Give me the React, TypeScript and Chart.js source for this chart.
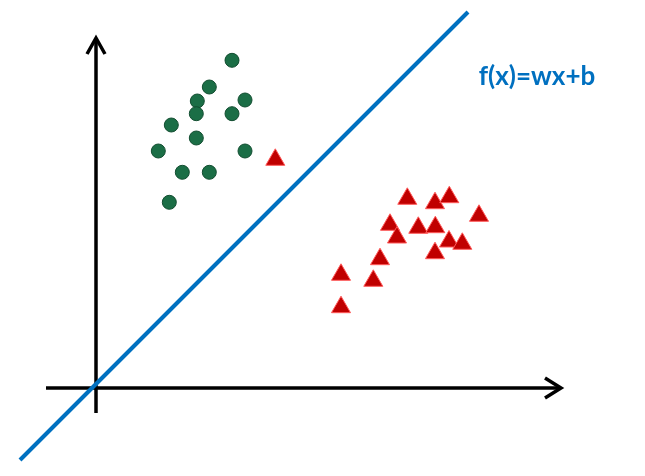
import React, { useEffect, useRef } from "react";
import { Chart, registerables } from "chart.js";

Chart.register(...registerables);

// Coordinate system: origin at the axes crossing, 1 unit = 1 px
const classAX = [136, 113.3, 101.3, 149, 100.3, 136, 75.3, 100.3, 62.3, 149, 86.3, 113.3, 73.3];
const classAY = [327.7, 301, 287, 288, 274.3, 274.3, 263, 250, 237, 237, 215.7, 215.7, 185.7];

const classBX = [311.3, 339, 353.3, 383, 294, 301, 322.3, 339.3, 353, 366.3, 339, 284, 245, 277.3, 245, 179.3];
const classBY = [189.2, 184.8, 190.8, 172.2, 163.2, 150.5, 160.2, 160.8, 146.5, 144.2, 134.8, 128.8, 113.2, 107.2, 80.8, 228.2];

const boundaryX = [-76, 372];
const boundaryY = [-72, 376];

const xAxisX = [-50, 465];
const xAxisY = [0, 0];
const yAxisX = [0, 0];
const yAxisY = [-25, 350];

const xArrowX = [449, 465, 449];
const xArrowY = [10, 0, -10];
const yArrowX = [-9, 0, 9];
const yArrowY = [334, 350, 334];

const labelText = "f(x)=wx+b";
const labelX = 441;
const labelY = 311;

const xMin = -96;
const xMax = 549;
const yMin = -88;
const yMax = 388;

const zip = (xs: number[], ys: number[]) => xs.map((x, i) => ({ x, y: ys[i] }));

export default function App() {
  const ref = useRef<HTMLCanvasElement | null>(null);
  useEffect(() => {
    if (!ref.current) return;
    const labelPlugin = {
      id: "fxLabel",
      afterDatasetsDraw(chart: any) {
        const ctx = chart.ctx;
        const px = chart.scales.x.getPixelForValue(labelX);
        const py = chart.scales.y.getPixelForValue(labelY);
        ctx.save();
        ctx.font = "bold 26px Lato";
        ctx.fillStyle = "#0070C0";
        ctx.textAlign = "center";
        ctx.textBaseline = "middle";
        ctx.fillText(labelText, px, py);
        ctx.restore();
      },
    };
    const lineDs = (xs: number[], ys: number[], color: string, width: number) => ({
      data: zip(xs, ys),
      showLine: true,
      borderColor: color,
      borderWidth: width,
      pointRadius: 0,
      pointHoverRadius: 0,
      borderJoinStyle: "miter" as const,
      borderCapStyle: "butt" as const,
      tension: 0,
      fill: false,
    });
    const chart = new Chart(ref.current, {
      type: "scatter",
      data: {
        datasets: [
          {
            data: zip(classAX, classAY),
            pointStyle: "circle",
            pointRadius: 7,
            pointBackgroundColor: "#1B6E46",
            pointBorderColor: "#124D30",
            pointBorderWidth: 1,
          },
          {
            data: zip(classBX, classBY),
            pointStyle: "triangle",
            pointRadius: 11,
            pointBackgroundColor: "#C00000",
            pointBorderColor: "#FF5A5A",
            pointBorderWidth: 1,
          },
          lineDs(boundaryX, boundaryY, "#0070C0", 4),
          lineDs(xAxisX, xAxisY, "#000000", 3.5),
          lineDs(yAxisX, yAxisY, "#000000", 3.5),
          lineDs(xArrowX, xArrowY, "#000000", 3.5),
          lineDs(yArrowX, yArrowY, "#000000", 3.5),
        ] as any,
      },
      options: {
        animation: false,
        responsive: false,
        devicePixelRatio: 1,
        layout: { padding: 0, autoPadding: false },
        plugins: { legend: { display: false }, tooltip: { enabled: false } },
        events: [],
        scales: {
          x: { type: "linear", min: xMin, max: xMax, display: false },
          y: { type: "linear", min: yMin, max: yMax, display: false },
        },
      },
      plugins: [labelPlugin],
    });
    return () => chart.destroy();
  }, []);
  return (
    <div style={{ position: "fixed", left: 0, top: 0, width: 645, height: 476, background: "#fff" }}>
      <canvas ref={ref} width={645} height={476} />
    </div>
  );
}
